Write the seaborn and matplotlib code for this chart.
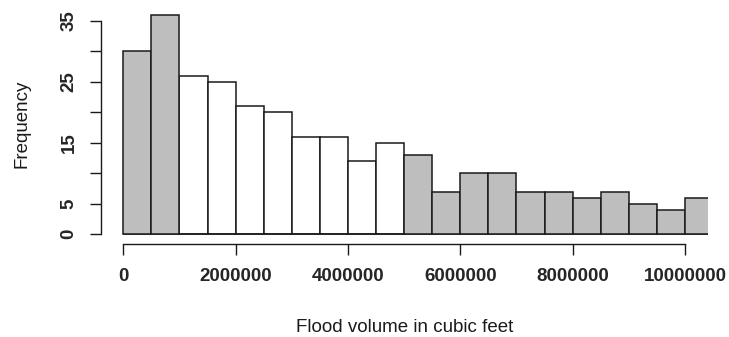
import matplotlib
matplotlib.use("Agg")
import matplotlib.pyplot as plt
import seaborn as sns
import numpy as np
import pandas as pd

# ---- data ----
bin_width = 500000
bin_starts = [i * bin_width for i in range(21)]
counts = [30, 36, 26, 25, 21, 20, 16, 16, 12, 15, 13, 7, 10, 10, 7, 7, 6, 7, 5, 4, 6]
shade = ["gray", "gray", "white", "white", "white", "white", "white", "white",
         "white", "white", "gray", "gray", "gray", "gray", "gray", "gray", "gray",
         "gray", "gray", "gray", "gray"]
x_ticks = [0, 2000000, 4000000, 6000000, 8000000, 10000000]
x_tick_labels = ["0", "2000000", "4000000", "6000000", "8000000", "10000000"]
y_ticks = [0, 5, 10, 15, 20, 25, 30, 35]
y_tick_labels = ["0", "5", "", "15", "", "25", "", "35"]
x_label = "Flood volume in cubic feet"
y_label = "Frequency"

df = pd.DataFrame({
    "volume": [s + bin_width / 2 for s in bin_starts],
    "count": counts,
    "shade": shade,
})
edges = [s for s in bin_starts] + [bin_starts[-1] + bin_width]

sns.set_style("white")
plt.rcParams["font.family"] = ["Liberation Sans", "DejaVu Sans"]

W, H = 729, 337
fig = plt.figure(figsize=(W / 100, H / 100), dpi=100)
L, R, B, T = 85, 708, 260, 10
ax = fig.add_axes([L / W, 1 - B / H, (R - L) / W, (B - T) / H])

sns.histplot(data=df, x="volume", weights="count", hue="shade", bins=edges,
             palette={"gray": "#BEBEBE", "white": "#FFFFFF"},
             multiple="layer", alpha=1, edgecolor="#1a1a1a", linewidth=1.1,
             legend=False, ax=ax)

# pixel mapping: x=0 -> 123.3 px, 10M -> 685 px; y=0 -> 234.3 px, 35 -> 20.7 px
pxx = (685 - 123.3) / 10e6
pxy = (234.3 - 20.7) / 35
ax.set_xlim((L - 123.3) / pxx, (R - 123.3) / pxx)
ax.set_ylim(-(B - 234.3) / pxy, (234.3 - T) / pxy)

for s in ["top", "right"]:
    ax.spines[s].set_visible(False)
ax.spines["left"].set_position(("data", (101 - 123.3) / pxx))
ax.spines["bottom"].set_position(("data", -(244.3 - 234.3) / pxy))
ax.spines["left"].set_bounds(0, 35)
ax.spines["bottom"].set_bounds(0, 10000000)
for s in ["left", "bottom"]:
    ax.spines[s].set_color("#1a1a1a")
    ax.spines[s].set_linewidth(1.0)

ax.set_xticks(x_ticks)
ax.set_xticklabels(x_tick_labels, fontsize=13.5, fontweight="bold")
ax.set_yticks(y_ticks)
ax.set_yticklabels(y_tick_labels, fontsize=13.5, fontweight="bold",
                   rotation=90, va="center")
ax.tick_params(axis="both", direction="out", length=8, width=1.0,
               color="#1a1a1a", left=True, bottom=True)
ax.tick_params(axis="x", pad=9)
ax.tick_params(axis="y", pad=9)
ax.set_xlabel("")
ax.set_ylabel("")

fig.text(405 / W, 1 - 332 / H, x_label, ha="center", va="baseline",
         fontsize=13.5, color="#1a1a1a")
fig.text(22.5 / W, 1 - 124 / H, y_label, ha="center", va="center",
         rotation=90, fontsize=13.5, color="#1a1a1a")

fig.savefig("out.png", dpi=100)
